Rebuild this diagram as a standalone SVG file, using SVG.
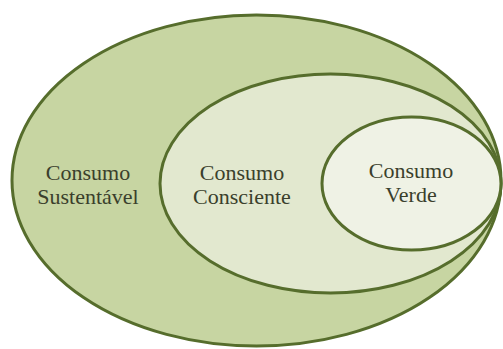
<svg xmlns="http://www.w3.org/2000/svg" width="503" height="349" viewBox="0 0 503 349">
<style>
.n{stroke:#566d2c;stroke-width:3}
</style>
<rect width="503" height="349" fill="#ffffff"/>
<g id="sustentavel">
<ellipse class="n" cx="256.5" cy="180.5" rx="244.5" ry="165.5" fill="#c7d5a2"/>
<text x="88" y="180" font-family="Times New Roman, Liberation Serif, Tinos, FreeSerif, serif" font-size="22" fill="#3a3f2c" text-anchor="middle">Consumo</text>
<text x="88" y="204" font-family="Times New Roman, Liberation Serif, Tinos, FreeSerif, serif" font-size="22" fill="#3a3f2c" text-anchor="middle">Sustentável</text>
</g>
<g id="consciente">
<ellipse class="n" cx="330.5" cy="183.5" rx="170.5" ry="109.5" fill="#e2e8cf"/>
<text x="242" y="180" font-family="Times New Roman, Liberation Serif, Tinos, FreeSerif, serif" font-size="22" fill="#3a3f2c" text-anchor="middle">Consumo</text>
<text x="242" y="204" font-family="Times New Roman, Liberation Serif, Tinos, FreeSerif, serif" font-size="22" fill="#3a3f2c" text-anchor="middle">Consciente</text>
</g>
<g id="verde">
<ellipse class="n" cx="411.5" cy="183.5" rx="89.5" ry="66.5" fill="#eff2e5"/>
<text x="411" y="178" font-family="Times New Roman, Liberation Serif, Tinos, FreeSerif, serif" font-size="22" fill="#3a3f2c" text-anchor="middle">Consumo</text>
<text x="411" y="202" font-family="Times New Roman, Liberation Serif, Tinos, FreeSerif, serif" font-size="22" fill="#3a3f2c" text-anchor="middle">Verde</text>
</g>
<g id="connectors"></g>
</svg>
